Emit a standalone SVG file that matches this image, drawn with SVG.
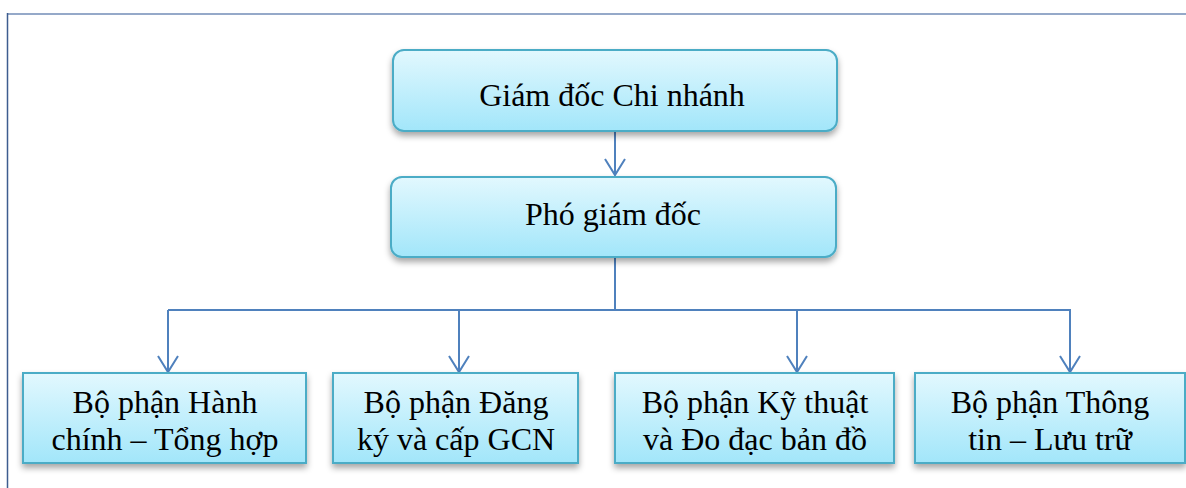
<svg xmlns="http://www.w3.org/2000/svg" width="1186" height="488" viewBox="0 0 1186 488">
<style>
.box{stroke:#4bacc6;stroke-width:2;fill:url(#g)}
.t{font-family:"Liberation Serif","Times New Roman",serif;font-size:32px;fill:#000;text-anchor:middle}
.c{fill:none;stroke:#4f81bd;stroke-width:2}
</style>
<defs>
<linearGradient id="g" x1="0" y1="0" x2="0" y2="1">
<stop offset="0" stop-color="#e2f8fe"/>
<stop offset="1" stop-color="#a2e6fa"/>
</linearGradient>
<filter id="sh" x="-10%" y="-20%" width="120%" height="150%">
<feDropShadow dx="0" dy="4" stdDeviation="3" flood-color="#000" flood-opacity="0.35"/>
</filter>
<marker id="ar" markerUnits="userSpaceOnUse" markerWidth="20" markerHeight="24" refX="17" refY="11" orient="auto" viewBox="0 0 20 24">
<path d="M1,1 L17,11 L1,21" fill="none" stroke="#4f81bd" stroke-width="2"/>
</marker>
</defs>
<rect width="1186" height="488" fill="#fff"/>
<line x1="7" y1="14" x2="1186" y2="14" stroke="#95a9c9" stroke-width="2"/>
<line x1="7.5" y1="13" x2="7.5" y2="488" stroke="#3d5d8f" stroke-width="1.5"/>
<g id="connectors">
<path class="c" d="M615,131 V175" marker-end="url(#ar)"/>
<path class="c" d="M615,258 V310"/>
<path class="c" d="M168,310 H1071"/>
<path class="c" d="M168,310 V372" marker-end="url(#ar)"/>
<path class="c" d="M459,310 V372" marker-end="url(#ar)"/>
<path class="c" d="M797,310 V372" marker-end="url(#ar)"/>
<path class="c" d="M1070,310 V372" marker-end="url(#ar)"/>
</g>
<g id="n1"><rect class="box" x="393" y="50" width="444" height="81" rx="11" filter="url(#sh)"/><text class="t" x="612" y="106">Giám đốc Chi nhánh</text></g>
<g id="n2"><rect class="box" x="391" y="177" width="445" height="80" rx="11" filter="url(#sh)"/><text class="t" x="613" y="225">Phó giám đốc</text></g>
<g id="n3"><rect class="box" x="23" y="373" width="283" height="90" filter="url(#sh)"/><text class="t" x="165" y="413">Bộ phận Hành</text><text class="t" x="165" y="450">chính – Tổng hợp</text></g>
<g id="n4"><rect class="box" x="333" y="373" width="245" height="90" filter="url(#sh)"/><text class="t" x="456" y="413">Bộ phận Đăng</text><text class="t" x="456" y="450">ký và cấp GCN</text></g>
<g id="n5"><rect class="box" x="615" y="373" width="279" height="90" filter="url(#sh)"/><text class="t" x="755" y="413">Bộ phận Kỹ thuật</text><text class="t" x="755" y="450">và Đo đạc bản đồ</text></g>
<g id="n6"><rect class="box" x="915" y="373" width="270" height="90" filter="url(#sh)"/><text class="t" x="1050" y="413">Bộ phận Thông</text><text class="t" x="1050" y="450">tin – Lưu trữ</text></g>
</svg>
